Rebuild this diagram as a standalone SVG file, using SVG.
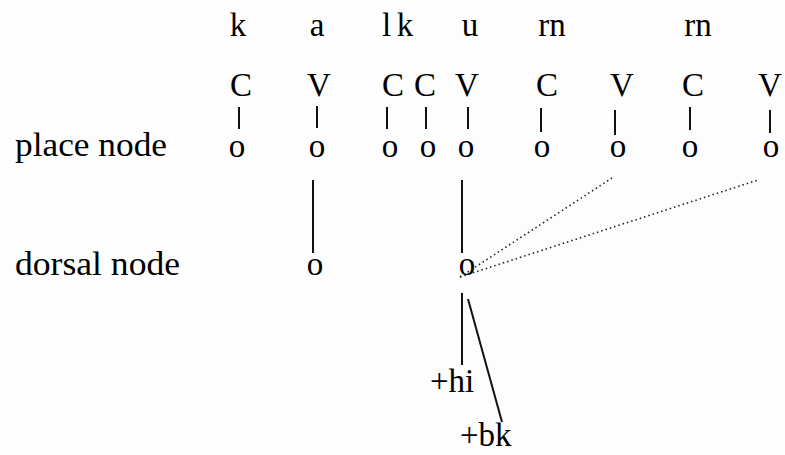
<svg xmlns="http://www.w3.org/2000/svg" width="785" height="455" viewBox="0 0 785 455">
<style>
text{font-family:"Liberation Serif","Times New Roman",serif;font-size:33px;fill:#000}
.m{text-anchor:middle}
.s{stroke:#111;stroke-width:2;fill:none}
.d{stroke:#222;stroke-width:1.6;stroke-dasharray:1.5 3;fill:none}
</style>
<rect width="785" height="455" fill="#fdfdfd"/>
<g id="labels">
<text x="15" y="156" textLength="152" lengthAdjust="spacingAndGlyphs">place node</text>
<text x="15" y="275" textLength="165" lengthAdjust="spacingAndGlyphs">dorsal node</text>
</g>
<g id="segments">
<text class="m" x="238" y="36">k</text>
<text class="m" x="317" y="36">a</text>
<text class="m" x="386.5" y="36">l</text>
<text class="m" x="405" y="36">k</text>
<text class="m" x="470" y="36">u</text>
<text class="m" x="552" y="36">rn</text>
<text class="m" x="698" y="36">rn</text>
</g>
<g id="skeleton">
<text class="m" x="241" y="96">C</text>
<text class="m" x="319" y="96">V</text>
<text class="m" x="393" y="96">C</text>
<text class="m" x="425" y="96">C</text>
<text class="m" x="467" y="96">V</text>
<text class="m" x="547" y="96">C</text>
<text class="m" x="622" y="96">V</text>
<text class="m" x="693" y="96">C</text>
<text class="m" x="770" y="96">V</text>
</g>
<g id="place-nodes">
<text class="m" x="237" y="157">o</text>
<text class="m" x="317" y="157">o</text>
<text class="m" x="390" y="157">o</text>
<text class="m" x="428" y="157">o</text>
<text class="m" x="466" y="157">o</text>
<text class="m" x="542" y="157">o</text>
<text class="m" x="618" y="157">o</text>
<text class="m" x="690" y="157">o</text>
<text class="m" x="771" y="157">o</text>
</g>
<g id="dorsal-nodes">
<text class="m" x="315" y="275">o</text>
<text class="m" x="467" y="275">o</text>
</g>
<g id="features">
<text x="430" y="392">+hi</text>
<text x="460" y="446">+bk</text>
</g>
<g id="connectors">
<line class="s" x1="239" y1="107" x2="239" y2="129"/>
<line class="s" x1="317" y1="106" x2="317" y2="128"/>
<line class="s" x1="387" y1="107" x2="387" y2="129"/>
<line class="s" x1="426" y1="107" x2="426" y2="129"/>
<line class="s" x1="468" y1="107" x2="468" y2="129"/>
<line class="s" x1="541" y1="108" x2="541" y2="132"/>
<line class="s" x1="615" y1="110" x2="615" y2="135"/>
<line class="s" x1="690" y1="107" x2="690" y2="130"/>
<line class="s" x1="770" y1="110" x2="770" y2="133"/>
<line class="s" x1="313" y1="180" x2="313" y2="253"/>
<line class="s" x1="462" y1="180" x2="462" y2="253"/>
<line class="d" x1="460" y1="277" x2="612" y2="178"/>
<line class="d" x1="460" y1="277" x2="758" y2="180"/>
<line class="s" x1="462" y1="293" x2="462" y2="365"/>
<line class="s" x1="468" y1="299" x2="502" y2="422"/>
</g>
</svg>
